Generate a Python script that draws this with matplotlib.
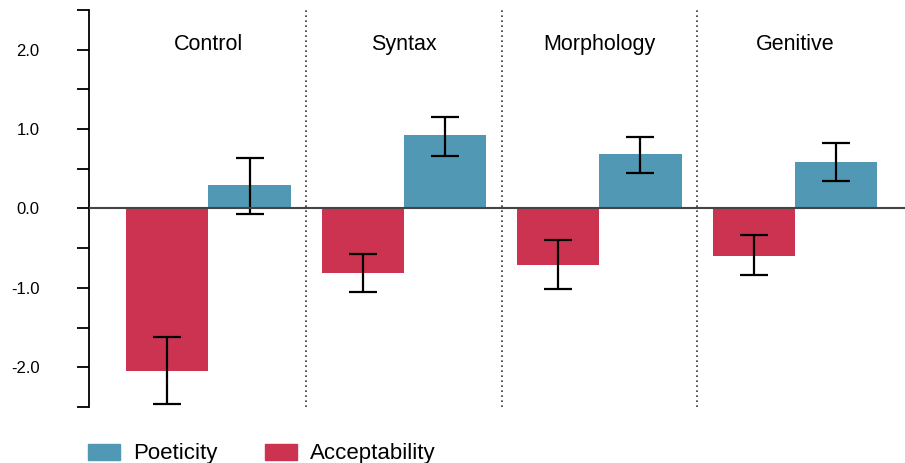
import matplotlib.pyplot as plt
from matplotlib.patches import Patch

plt.rcParams['font.family'] = ['Liberation Sans', 'DejaVu Sans']

groups = ["Control", "Syntax", "Morphology", "Genitive"]
accept = [-2.05, -0.81, -0.71, -0.60]
accept_lo = [-2.46, -1.05, -1.01, -0.84]
accept_hi = [-1.62, -0.57, -0.40, -0.33]
poet = [0.29, 0.92, 0.69, 0.59]
poet_lo = [-0.07, 0.66, 0.45, 0.35]
poet_hi = [0.63, 1.15, 0.90, 0.83]
yticks = [-2.5, -2.0, -1.5, -1.0, -0.5, 0.0, 0.5, 1.0, 1.5, 2.0, 2.5]
ylabels = ["", "-2.0", "", "-1.0", "", "0.0", "", "1.0", "", "2.0", ""]

red = "#CC3350"
blue = "#5098B4"

fig = plt.figure(figsize=(9.05, 4.63), dpi=100)
ax = fig.add_axes([89 / 905, 56 / 463, 816 / 905, 397 / 463])

x = list(range(len(groups)))
w = 0.42
xa = [i - w / 2 for i in x]
xp = [i + w / 2 for i in x]

ax.bar(xa, accept, width=w, color=red, zorder=2)
ax.bar(xp, poet, width=w, color=blue, zorder=2)

ea = [[a - lo for a, lo in zip(accept, accept_lo)], [hi - a for a, hi in zip(accept, accept_hi)]]
ep = [[p - lo for p, lo in zip(poet, poet_lo)], [hi - p for p, hi in zip(poet, poet_hi)]]
ax.errorbar(xa, accept, yerr=ea, fmt="none", ecolor="black", elinewidth=1.6,
            capsize=10, capthick=1.6, zorder=3)
ax.errorbar(xp, poet, yerr=ep, fmt="none", ecolor="black", elinewidth=1.6,
            capsize=10, capthick=1.6, zorder=3)

ax.axhline(0, color="#444444", lw=1.5, zorder=4)
for d in [0.5, 1.5, 2.5]:
    ax.axvline(d, color="#333333", lw=1.2, ls=(0, (1, 2)), zorder=1)

for i, g in enumerate(groups):
    ax.text(i, 2.07, g, ha="center", va="center", fontsize=15.5)

ax.set_xlim(-0.611, 3.563)
ax.set_ylim(-2.5, 2.5)
ax.set_yticks(yticks)
ax.set_yticklabels(ylabels, fontsize=12)
ax.tick_params(axis="y", length=8.6, width=1.3, pad=27)
ax.set_xticks([])
for s in ["top", "right", "bottom"]:
    ax.spines[s].set_visible(False)
ax.spines["left"].set_linewidth(1.3)

handles = [Patch(color=blue, label="Poeticity"), Patch(color=red, label="Acceptability")]
fig.legend(handles=handles, loc="lower left", bbox_to_anchor=(88 / 905, -0.003),
           ncol=2, frameon=False, fontsize=16, handlelength=1.45, handleheight=0.72,
           handletextpad=0.58, columnspacing=2.15, borderpad=0, borderaxespad=0)

fig.savefig("out.png", dpi=100)
